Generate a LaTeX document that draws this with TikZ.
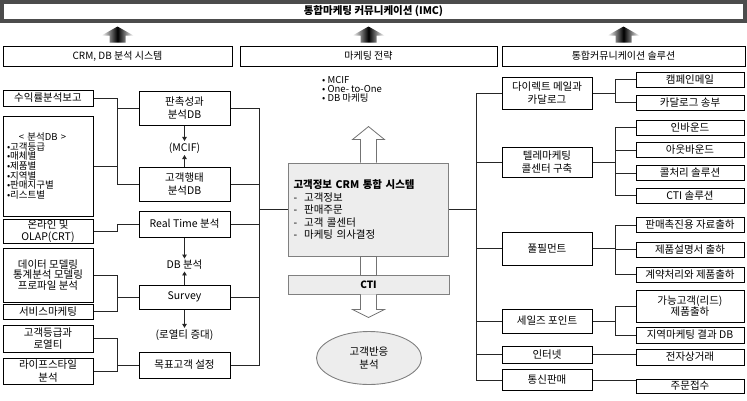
\documentclass[tikz,border=0pt]{standalone}
\usepackage{fontspec}
\setmainfont{Noto Sans CJK KR}
\usetikzlibrary{arrows.meta,shapes.geometric}

\begin{document}
\begin{tikzpicture}[x=1pt,y=-1pt,
    font=\fontsize{10.5}{12.5}\selectfont,
    box/.style={draw, line width=1pt, inner sep=0pt, align=center},
    lbox/.style={box, minimum width=90},
    mbox/.style={box, minimum width=91},
    subbox/.style={box, minimum width=108, minimum height=15},
    hdr/.style={box, minimum height=20, font=\fontsize{10}{12}\selectfont},
    lbl/.style={inner sep=1.5pt},
    link/.style={line width=0.9pt, black!85},
    tip/.style={link, -{Triangle[length=4pt,width=4.5pt]}},
    hollow/.style={draw=black!55, fill=white, line width=0.8pt},
    grey/.style={draw=black!50, fill=black!7, line width=0.9pt}]
\useasboundingbox (0,0) rectangle (747,400);

% top bar and the three headers
\node[draw=black!70, line width=4pt, minimum width=743, minimum height=19, inner sep=0pt,
      font=\fontsize{10.5}{12}\selectfont\bfseries] (imc) at (373.5,11.5) {통합마케팅 커뮤니케이션 (IMC)};
\node[hdr, minimum width=229] (hdrA) at (117.5,56) {CRM, DB 분석 시스템};
\node[hdr, minimum width=257] (hdrB) at (368.5,56) {마케팅 전략};
\node[hdr, minimum width=243] (hdrC) at (623.5,56) {통합커뮤니케이션 솔루션};
\foreach \n in {hdrA,hdrB,hdrC}
    \shade[shift={(\n.north)}, left color=white, right color=white, middle color=black]
        (-8,-3) -- (-8,-10) -- (-16,-10) -- (0,-19) -- (16,-10) -- (8,-10) -- (8,-3) -- cycle;

% left column
\node[lbox, minimum height=16] (ret) at (48,98) {수익률분석보고};
\node[lbox, minimum height=100, text width=82, align=left, font=\fontsize{9.5}{8.4}\selectfont] (andb) at (48,166)
    {\hspace*{12pt}< 분석DB >\\•고객등급\\•매체별\\•제품별\\•지역별\\•판매지구별\\•리스트별};
\node[lbox, minimum height=24] (olap) at (48,231) {온라인 및\\OLAP(CRT)};
\node[lbox, minimum height=54, font=\fontsize{10.5}{9.5}\selectfont] (model) at (48,275) {데이터 모델링\\통계분석 모델링\\프로파일 분석};
\node[lbox, minimum height=15] (svc) at (48,311.5) {서비스마케팅};
\node[lbox, minimum height=27] (grade) at (48,338.5) {고객등급과\\로열티};
\node[lbox, minimum height=26] (life) at (48,371) {라이프스타일\\분석};

% analysis DB column
\node[mbox, minimum height=34] (promo) at (184.5,108) {판촉성과\\분석DB};
\node[lbl] (mcif) at (184.5,148) {(MCIF)};
\node[mbox, minimum height=34] (behav) at (184.5,184) {고객행태\\분석DB};
\node[mbox, minimum height=26] (rt) at (184.5,224) {Real Time 분석};
\node[lbl] (dba) at (184.5,265) {DB 분석};
\node[mbox, minimum height=24] (survey) at (184.5,297) {Survey};
\node[lbl] (loyal) at (184.5,335) {(로열티 증대)};
\node[mbox, minimum height=26] (target) at (184.5,365) {목표고객 설정};

\draw[tip] (promo.south) -- (mcif.north);
\draw[tip] (behav.north) -- (mcif.south);
\draw[tip] (rt.south) -- (dba.north);
\draw[tip] (survey.north) -- (dba.south);
\draw[tip] (survey.south) -- (loyal.north);

% centre
\node[grey, minimum width=160, minimum height=93, text width=150, align=left, inner sep=0pt] (crm) at (368.5,209.5)
    {{\bfseries 고객정보 CRM 통합 시스템}\\-\hspace{7pt}고객정보\\-\hspace{7pt}판매주문\\-\hspace{7pt}고객 콜센터\\-\hspace{7pt}마케팅 의사결정};
\node[anchor=north west, align=left, inner sep=0pt, font=\fontsize{9.5}{9.2}\selectfont] (strat) at (322,76)
    {• MCIF\\• One- to-One\\• DB 마케팅};
\node[grey, minimum width=161, minimum height=19, inner sep=0pt, font=\fontsize{10}{11}\selectfont\bfseries] (cti) at (368.5,284.5) {CTI};
\node[grey, ellipse, minimum width=105, minimum height=53, inner sep=0pt, align=center] (resp) at (369,358) {고객반응\\분석};

\draw[hollow, shift={(crm.north)}] (-8,0) -- (-8,-23) -- (-16,-23) -- (0,-36) -- (16,-23) -- (8,-23) -- (8,0);
\draw[hollow, shift={(crm.south)}] (-8,0) rectangle (8,19);
\draw[hollow, shift={(cti.south)}] (-8,0) -- (-8,15) -- (-16,15) -- (0,23) -- (16,15) -- (8,15) -- (8,0);

% left buses
\coordinate (busL) at (117,0);
\draw[link] (ret.east) -| (busL |- behav.west) -- (behav.west);
\draw[link] (andb.east) -- (busL |- andb.east);
\draw[link] (busL |- promo.west) -- (promo.west);
\draw[link] (olap.east) -| (busL |- rt.west) -- (rt.west);
\draw[link] (model.east) -| (busL |- svc.east) -- (svc.east);
\draw[link] (busL |- survey.west) -- (survey.west);
\draw[link] (grade.east) -| (busL |- life.east) -- (life.east);
\draw[link] (busL |- target.west) -- (target.west);

\coordinate (busM) at (259,0);
\draw[link] (promo.east) -| (busM |- target.east) -- (target.east);
\foreach \n in {behav,rt,survey}
    \draw[link] (\n.east) -- (busM |- \n.east);
\draw[link] (busM |- crm.west) -- (crm.west);

% right side
\node[lbox, minimum height=32] (dm) at (547,93) {다이렉트 메일과\\카달로그};
\node[lbox, minimum height=30] (tm) at (547,162) {텔레마케팅\\콜센터 구축};
\node[lbox, minimum height=33] (ful) at (547,248.5) {풀필먼트};
\node[lbox, minimum height=24] (sp) at (547,321) {세일즈 포인트};
\node[lbox, minimum height=17] (net) at (547,354.5) {인터넷};
\node[lbox, minimum height=21] (mail) at (547,380) {통신판매};

\node[subbox] (camp) at (690,79.5) {캠페인메일};
\node[subbox] (catsend) at (690,102.5) {카달로그 송부};
\node[subbox] (inb) at (690,127.5) {인바운드};
\node[subbox] (outb) at (690,150) {아웃바운드};
\node[subbox] (callsol) at (690,173) {콜처리 솔루션};
\node[subbox] (ctisol) at (690,195.5) {CTI 솔루션};
\node[subbox] (promomat) at (690,225) {판매촉진용 자료출하};
\node[subbox] (manual) at (690,249.5) {제품설명서 출하};
\node[subbox] (contract) at (690,274.5) {계약처리와 제품출하};
\node[subbox, minimum height=32, font=\fontsize{10.5}{10}\selectfont] (lead) at (690,306) {가능고객(리드)\\제품출하};
\node[subbox, minimum height=16] (localdb) at (690,335) {지역마케팅 결과 DB};
\node[subbox, minimum height=16] (ecom) at (690,357) {전자상거래};
\node[subbox, minimum height=14] (order) at (690,386) {주문접수};

\coordinate (busR) at (476,0);
\draw[link] (crm.east) -- (busR |- crm.east);
\draw[link] (busR |- dm.west) -- (busR |- mail.west);
\foreach \n in {dm,tm,ful,sp,net,mail}
    \draw[link] (busR |- \n.west) -- (\n.west);

\coordinate (busS) at (615,0);
\foreach \p/\a/\b in {dm/camp/catsend, tm/inb/ctisol, ful/promomat/contract, sp/lead/localdb} {
    \draw[link] (\p.east) -- (busS |- \p.east);
    \draw[link] (\a.west) -| (busS |- \b.west) -- (\b.west);
}
\foreach \n in {outb,callsol,manual}
    \draw[link] (busS |- \n.west) -- (\n.west);
\draw[link] (net.east) -- (net.east -| ecom.west);
\draw[link] (mail.east) -- (mail.east -| order.west);
\end{tikzpicture}
\end{document}
